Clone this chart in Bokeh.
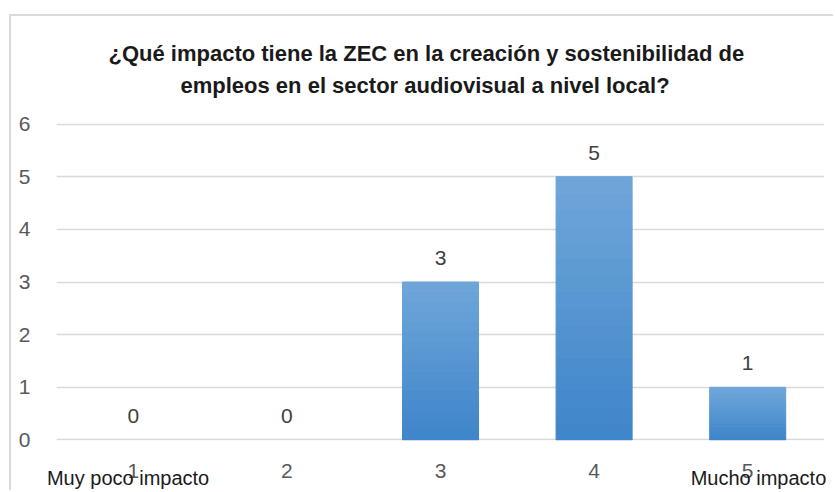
from bokeh.plotting import figure
from bokeh.models import (ColumnDataSource, LabelSet, FixedTicker, Range1d,
                          LinearAxis, Title)
from bokeh.core.properties import value
from bokeh.embed import file_html
from bokeh.resources import INLINE

# ---- data ----
categories = ["1", "2", "3", "4", "5"]
positions = [1, 2, 3, 4, 5]
counts = [0, 0, 3, 5, 1]
y_ticks = [0, 1, 2, 3, 4, 5, 6]
title_lines = ["¿Qué impacto tiene la ZEC en la creación y sostenibilidad de",
               "empleos en el sector audiovisual a nivel local?"]
end_labels = ["Muy poco impacto", "Mucho impacto"]
end_label_pos = [0.966, 5.07]

FONT = "Liberation Sans"
GRID = "#d9d9d9"

p = figure(width=824, height=476, output_backend="svg", toolbar_location=None,
           x_range=Range1d(0.5, 5.5), y_range=Range1d(-0.01, 6.01),
           min_border_left=45, min_border_right=11, min_border_top=107, min_border_bottom=52,
           styles={"border-top": "2px solid #d9d9d9", "border-left": "2px solid #d9d9d9",
                   "margin-left": "9px", "margin-top": "14px"})
p.outline_line_color = None
p.background_fill_color = "white"
p.border_fill_color = "white"
p.title.visible = False

# gradient bars: each bar split into slices computed from its value
N = 16
top_c = (0x70, 0xa6, 0xda)
bot_c = (0x3d, 0x85, 0xc9)
for k in range(N):
    col = tuple(int(round(bot_c[j] + (top_c[j] - bot_c[j]) * (k + 0.5) / N)) for j in range(3))
    hexc = "#%02x%02x%02x" % col
    src = ColumnDataSource(dict(x=positions,
                                b=[v * k / N for v in counts],
                                t=[v * (k + 1) / N for v in counts],
                                la=[0.0 if v == 0 else 1.0 for v in counts]))
    p.vbar(x="x", bottom="b", top="t", width=0.495, source=src,
           fill_color=hexc, line_color=hexc, line_alpha="la", line_width=1)

# axes
p.xaxis.ticker = FixedTicker(ticks=positions)
p.xaxis.major_label_overrides = {pos: c for pos, c in zip(positions, categories)}
p.yaxis.ticker = FixedTicker(ticks=y_ticks)
for ax in (p.xaxis[0], p.yaxis[0]):
    ax.axis_line_color = None
    ax.major_tick_line_color = None
    ax.minor_tick_line_color = None
    ax.major_label_text_font = FONT
    ax.major_label_text_font_size = "21px"
    ax.major_label_text_color = "#595959"
p.xaxis.major_label_standoff = 17
p.yaxis.major_label_standoff = 20

# end-point captions as a second bottom axis, pulled up onto the first
cap_axis = LinearAxis(ticker=FixedTicker(ticks=end_label_pos),
                      major_label_overrides={pos: t for pos, t in zip(end_label_pos, end_labels)},
                      axis_line_color=None, major_tick_line_color=None,
                      minor_tick_line_color=None, major_label_standoff=-20,
                      major_label_text_font=FONT, major_label_text_font_size="20px",
                      major_label_text_color="#1a1a1a")
p.add_layout(cap_axis, "below")

p.xgrid.grid_line_color = None
p.ygrid.ticker = FixedTicker(ticks=y_ticks)
p.ygrid.grid_line_color = GRID
p.ygrid.grid_line_width = 1.3

# data labels
lab_src = ColumnDataSource(dict(x=positions, y=counts, text=[str(v) for v in counts]))
p.add_layout(LabelSet(x="x", y="y", text="text", source=lab_src, y_offset=24,
                      text_align="center", text_baseline="middle",
                      text_font=value(FONT), text_font_size=value("21px"),
                      text_color="#404040"))

# two-line title; a thin spacer title keeps it clear of the plot area
p.add_layout(Title(text=" ", text_font_size="1px", standoff=20), "above")
p.add_layout(Title(text=title_lines[1], align="left", offset=124,
                   text_font=FONT, text_font_size="22px", text_font_style="bold",
                   text_color="#1a1a1a", standoff=5), "above")
p.add_layout(Title(text=title_lines[0], align="left", offset=52,
                   text_font=FONT, text_font_size="22px", text_font_style="bold",
                   text_color="#1a1a1a", standoff=5), "above")

open("out.html", "w").write(file_html(p, INLINE))
